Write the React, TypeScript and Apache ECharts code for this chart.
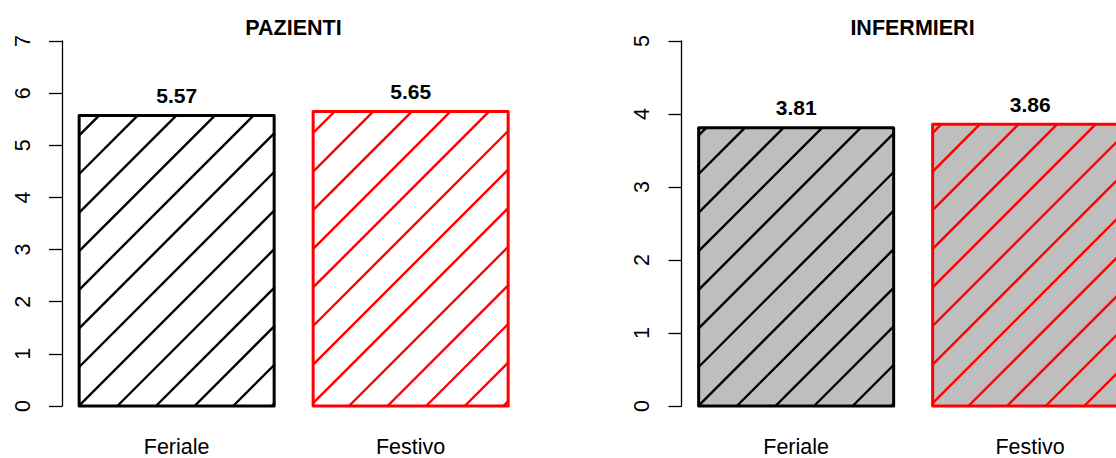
import React, { useEffect, useRef } from "react";
import * as echarts from "echarts";

const categories = ["Feriale", "Festivo"];
const pazienti = [5.57, 5.65];
const infermieri = [3.81, 3.86];
const pazientiTicks = [0, 1, 2, 3, 4, 5, 6, 7];
const infermieriTicks = [0, 1, 2, 3, 4, 5];
const titles = ["PAZIENTI", "INFERMIERI"];
const barColors = ["#000000", "#FF0000"];
const panelFills = ["#FFFFFF", "#BEBEBE"];

const BAR_W = 1;
const SPACE = 0.2;
const X_MIN = 0.112;
const X_MAX = 2.488;
const PANEL_W = 463.3;
const RIGHT_LEFT = 681.5;
const RIGHT_W = 1116 - RIGHT_LEFT;
const X_MAX_RIGHT = X_MIN + ((X_MAX - X_MIN) * RIGHT_W) / PANEL_W;
const HATCH = 38.6;
const FAMILY = "Liberation Sans";
const TICK_LABEL_OFFSET = 39.5;

function makeRender(fill: string) {
  return (params: any, api: any) => {
    const i = params.dataIndex;
    const c = api.value(0);
    const v = api.value(1);
    const xl = c - BAR_W / 2;
    const xr = c + BAR_W / 2;
    const bl = api.coord([xl, 0]);
    const tr = api.coord([xr, v]);
    const o = api.coord([0, 0]);
    const L = bl[0], B = bl[1], R = tr[0], T = tr[1];
    const col = barColors[i];
    const children: any[] = [];
    children.push({
      type: "rect",
      shape: { x: L, y: T, width: R - L, height: B - T },
      style: { fill, stroke: null },
    });
    const ko = o[0] + o[1];
    const n0 = Math.ceil((L + T - ko) / HATCH);
    const n1 = Math.floor((R + B - ko) / HATCH);
    for (let n = n0; n <= n1; n++) {
      const k = ko + n * HATCH;
      const xa = Math.max(L, k - B);
      const xb = Math.min(R, k - T);
      if (xb - xa > 0.3) {
        children.push({
          type: "line",
          shape: { x1: xa, y1: k - xa, x2: xb, y2: k - xb },
          style: { stroke: col, lineWidth: 2.4, lineCap: "round" },
        });
      }
    }
    children.push({
      type: "rect",
      shape: { x: L, y: T, width: R - L, height: B - T },
      style: { fill: null, stroke: col, lineWidth: 3, lineJoin: "round" },
    });
    children.push({
      type: "text",
      style: {
        text: v.toFixed(2),
        x: (L + R) / 2,
        y: T - 20,
        fill: "#000",
        fontFamily: FAMILY,
        fontSize: 21,
        fontWeight: "bold",
        textAlign: "center",
        textVerticalAlign: "middle",
        align: "center",
        verticalAlign: "middle",
      },
    });
    children.push({
      type: "text",
      style: {
        text: categories[i],
        x: (L + R) / 2,
        y: B + 41,
        fill: "#000",
        fontFamily: FAMILY,
        fontSize: 21.5,
        textAlign: "center",
        textVerticalAlign: "middle",
        align: "center",
        verticalAlign: "middle",
      },
    });
    return { type: "group", children };
  };
}

function renderTickLabel(params: any, api: any) {
  const t = api.value(1);
  const p = api.coord([api.value(0), t]);
  return {
    type: "text",
    x: p[0] - TICK_LABEL_OFFSET,
    y: p[1],
    rotation: Math.PI / 2,
    style: {
      text: String(t),
      fill: "#000",
      fontFamily: FAMILY,
      fontSize: 21.5,
      textAlign: "center",
      textVerticalAlign: "middle",
      align: "center",
      verticalAlign: "middle",
    },
  };
}

function toData(values: number[]) {
  return values.map((v, i) => [SPACE + i * (BAR_W + SPACE) + BAR_W / 2, v]);
}

function yAxis(gridIndex: number, ticks: number[]) {
  return {
    type: "value",
    gridIndex,
    min: ticks[0],
    max: ticks[ticks.length - 1],
    interval: 1,
    axisLine: { show: true, lineStyle: { color: "#000", width: 1.3 } },
    axisTick: { show: true, length: 13, lineStyle: { color: "#000", width: 1.3 } },
    splitLine: { show: false },
    axisLabel: { show: false },
  };
}

function xAxis(gridIndex: number, max: number) {
  return {
    type: "value",
    gridIndex,
    min: X_MIN,
    max,
    show: false,
  };
}

export default function App() {
  const ref = useRef<HTMLDivElement>(null);
  useEffect(() => {
    if (!ref.current) return;
    const chart = echarts.init(ref.current, null, { renderer: "svg" });
    chart.setOption({
      animation: false,
      backgroundColor: "#FFFFFF",
      grid: [
        { left: 62, top: 41, width: PANEL_W, height: 365 },
        { left: RIGHT_LEFT, top: 41, width: RIGHT_W, height: 365 },
      ],
      xAxis: [xAxis(0, X_MAX), xAxis(1, X_MAX_RIGHT)],
      yAxis: [yAxis(0, pazientiTicks), yAxis(1, infermieriTicks)],
      graphic: [
        {
          type: "text",
          x: 293.5,
          y: 27.5,
          style: {
            text: titles[0],
            fontFamily: FAMILY,
            fontSize: 21.5,
            fontWeight: "bold",
            fill: "#000",
            textAlign: "center",
            textVerticalAlign: "middle",
            align: "center",
            verticalAlign: "middle",
          },
        },
        {
          type: "text",
          x: 912.5,
          y: 27.5,
          style: {
            text: titles[1],
            fontFamily: FAMILY,
            fontSize: 21.5,
            fontWeight: "bold",
            fill: "#000",
            textAlign: "center",
            textVerticalAlign: "middle",
            align: "center",
            verticalAlign: "middle",
          },
        },
      ],
      series: [
        {
          type: "custom",
          xAxisIndex: 0,
          yAxisIndex: 0,
          clip: false,
          data: toData(pazienti),
          renderItem: makeRender(panelFills[0]),
        },
        {
          type: "custom",
          xAxisIndex: 1,
          yAxisIndex: 1,
          clip: false,
          data: toData(infermieri),
          renderItem: makeRender(panelFills[1]),
        },
        {
          type: "custom",
          xAxisIndex: 0,
          yAxisIndex: 0,
          clip: false,
          data: pazientiTicks.map((t) => [X_MIN, t]),
          renderItem: renderTickLabel,
        },
        {
          type: "custom",
          xAxisIndex: 1,
          yAxisIndex: 1,
          clip: false,
          data: infermieriTicks.map((t) => [X_MIN, t]),
          renderItem: renderTickLabel,
        },
      ],
    });
    return () => chart.dispose();
  }, []);
  return (
    <div
      ref={ref}
      style={{ position: "absolute", left: 0, top: 0, width: 1116, height: 458 }}
    />
  );
}
